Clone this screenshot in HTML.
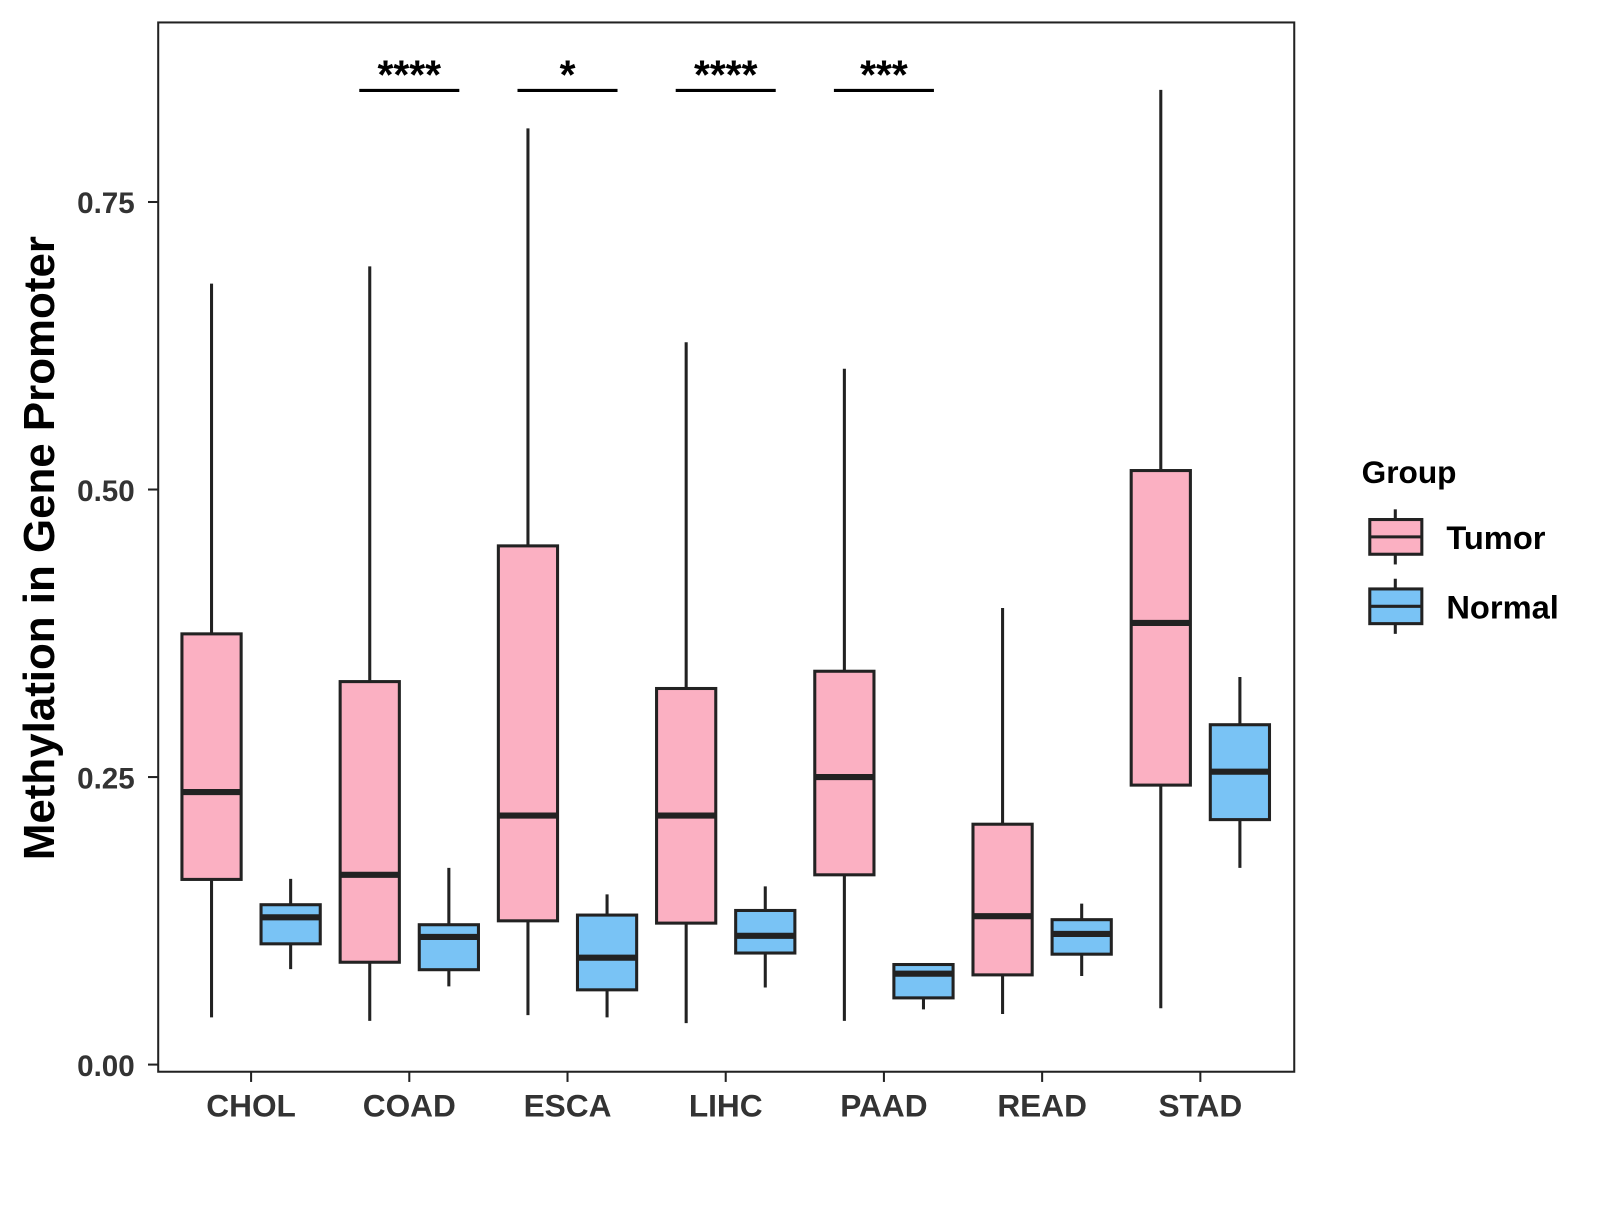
<!DOCTYPE html>
<html><head><meta charset="utf-8"><style>
html,body{margin:0;padding:0;background:#fff;}
svg text{font-family:"Liberation Sans",Arial,sans-serif;font-weight:bold;}
</style></head><body>
<svg id="chart" width="1600" height="1200" viewBox="0 0 1600 1200" xmlns="http://www.w3.org/2000/svg">
<rect x="0" y="0" width="1600" height="1200" fill="#fff"/>
<g transform="scale(1.0207)">
<rect x="155" y="22" width="1113" height="1028" fill="none" stroke="#222" stroke-width="2"/>
<g id="marks"></g>
<text x="38" y="537" font-size="43" dy="0.35em" fill="#000" text-anchor="middle" transform="rotate(-90 38 537)">Methylation in Gene Promoter</text>
<g>
<text x="1334" y="473" font-size="31" fill="#000">Group</text>
<g>
<line x1="1367" y1="499" x2="1367" y2="553" stroke="#222" stroke-width="3"/>
<rect x="1342" y="509" width="51" height="34" fill="#FBB0C2" stroke="#222" stroke-width="3"/>
<line x1="1342" y1="526" x2="1393" y2="526" stroke="#222" stroke-width="3"/>
<text x="1417" y="538" font-size="32" fill="#000">Tumor</text>
</g>
<g>
<line x1="1367" y1="567" x2="1367" y2="621" stroke="#222" stroke-width="3"/>
<rect x="1342" y="577" width="51" height="34" fill="#79C3F5" stroke="#222" stroke-width="3"/>
<line x1="1342" y1="594" x2="1393" y2="594" stroke="#222" stroke-width="3"/>
<text x="1417" y="606" font-size="32" fill="#000">Normal</text>
</g>
</g>
</g>
</svg>
<script>
const categories = ["CHOL","COAD","ESCA","LIHC","PAAD","READ","STAD"];
// [low, q1, median, q3, high]
const tumorStats = [
 [0.041,0.161,0.237,0.3745,0.679],
 [0.038,0.089,0.165,0.333,0.694],
 [0.043,0.125,0.2165,0.451,0.814],
 [0.036,0.123,0.2165,0.327,0.628],
 [0.038,0.165,0.250,0.342,0.605],
 [0.044,0.078,0.129,0.209,0.397],
 [0.049,0.243,0.384,0.5165,0.8475]
];
const normalStats = [
 [0.083,0.105,0.128,0.139,0.1615],
 [0.068,0.0825,0.111,0.1216,0.171],
 [0.041,0.065,0.093,0.130,0.148],
 [0.067,0.097,0.112,0.134,0.155],
 [0.048,0.058,0.079,0.087,0.087],
 [0.077,0.096,0.1136,0.126,0.140],
 [0.171,0.213,0.2547,0.2955,0.337]
];
const yTicks = [0,0.25,0.5,0.75];
const yTickLabels = ["0.00","0.25","0.50","0.75"];
const sigCategories = ["COAD","ESCA","LIHC","PAAD"];
const sigLabels = ["****","*","****","***"];
const sigLevel = 0.847;

const NS="http://www.w3.org/2000/svg";
const g=document.getElementById('marks');
function y(v){return 1043-v*1126.8;}
function x(i){return 246+i*155;}
function el(t,a){const e=document.createElementNS(NS,t);for(const k in a)e.setAttribute(k,a[k]);g.appendChild(e);return e;}

yTicks.forEach((t,i)=>{
  const tk=el('line',{x1:145,x2:155,y1:y(t),y2:y(t),stroke:'#222','stroke-width':2});
  
  
  const tx=el('text',{x:132,y:y(t)+11,'font-size':29,fill:'#333','text-anchor':'end'});
  tx.textContent=yTickLabels[i];
  
  
});
categories.forEach((c,i)=>{
  const tk=el('line',{x1:x(i),x2:x(i),y1:1050,y2:1060,stroke:'#222','stroke-width':2});
  
  
  const tx=el('text',{x:x(i),y:1094,'font-size':31,fill:'#333','text-anchor':'middle'});
  tx.textContent=c;
  
  
});
function box(cx,s,fill,name){
  const w=29;
  const wl=el('line',{x1:cx,x2:cx,y1:y(s[0]),y2:y(s[4]),stroke:'#222','stroke-width':3});
  
  
  const r=el('rect',{x:cx-w,y:y(s[3]),width:2*w,height:y(s[1])-y(s[3]),fill:fill,stroke:'#222','stroke-width':3});
  
  
  const m=el('line',{x1:cx-w,x2:cx+w,y1:y(s[2]),y2:y(s[2]),stroke:'#222','stroke-width':6});
  
  
}
categories.forEach((c,i)=>{
  box(x(i)-38.75,tumorStats[i],'#FBB0C2','tumor-'+c.toLowerCase());
  box(x(i)+38.75,normalStats[i],'#79C3F5','normal-'+c.toLowerCase());
});
sigCategories.forEach((c,k)=>{
  const i=categories.indexOf(c);
  const l=el('line',{x1:x(i)-49,x2:x(i)+49,y1:y(sigLevel),y2:y(sigLevel),stroke:'#000','stroke-width':3});
  
  
  const t=el('text',{x:x(i),y:y(sigLevel)-2,'font-size':40,fill:'#000','text-anchor':'middle'});
  t.textContent=sigLabels[k];
  
  
});
</script>
</body></html>
